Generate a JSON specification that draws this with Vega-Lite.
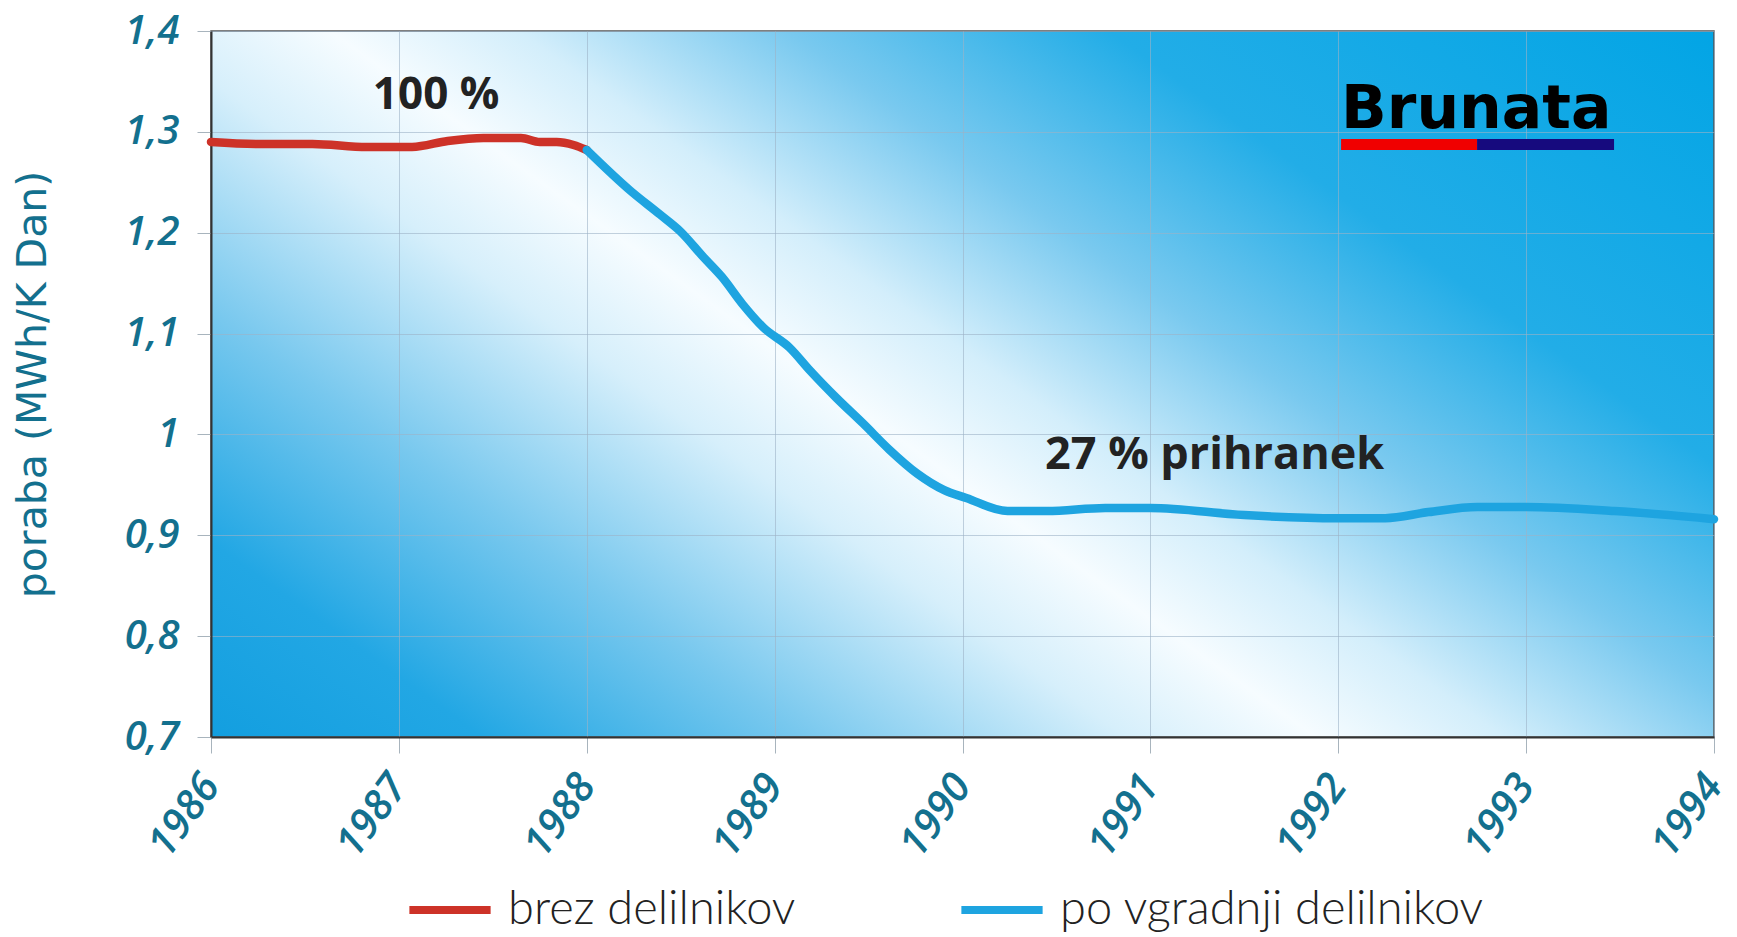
{
  "$schema": "https://vega.github.io/schema/vega-lite/v6.json",
  "width": 1503,
  "height": 706,
  "autosize": {"type": "none"},
  "padding": {"left": 211, "top": 31, "right": 23, "bottom": 200},
  "background": "white",
  "view": {
    "fill": {
      "gradient": "linear",
      "x1": -0.2, "y1": 0.91, "x2": 1.05, "y2": 0.09,
      "stops": [
        {"offset": 0, "color": "#0798dc"},
        {"offset": 0.18, "color": "#22a7e4"},
        {"offset": 0.3, "color": "#78c8ee"},
        {"offset": 0.42, "color": "#d6effb"},
        {"offset": 0.49, "color": "#f6fcff"},
        {"offset": 0.56, "color": "#d3eefb"},
        {"offset": 0.66, "color": "#79c9ef"},
        {"offset": 0.78, "color": "#22ade7"},
        {"offset": 1, "color": "#03a5e5"}
      ]
    },
    "stroke": "#555555",
    "strokeWidth": 1.5
  },
  "layer": [
    {
      "data": {
        "values": [
          {"year": 1986.0, "value": 1.290, "series": "brez delilnikov"},
          {"year": 1986.26, "value": 1.288, "series": "brez delilnikov"},
          {"year": 1986.54, "value": 1.288, "series": "brez delilnikov"},
          {"year": 1986.83, "value": 1.285, "series": "brez delilnikov"},
          {"year": 1987.07, "value": 1.285, "series": "brez delilnikov"},
          {"year": 1987.26, "value": 1.291, "series": "brez delilnikov"},
          {"year": 1987.45, "value": 1.294, "series": "brez delilnikov"},
          {"year": 1987.65, "value": 1.294, "series": "brez delilnikov"},
          {"year": 1987.75, "value": 1.290, "series": "brez delilnikov"},
          {"year": 1987.84, "value": 1.290, "series": "brez delilnikov"},
          {"year": 1987.93, "value": 1.287, "series": "brez delilnikov"},
          {"year": 1988.0, "value": 1.282, "series": "brez delilnikov"},
          {"year": 1988.0, "value": 1.282, "series": "po vgradnji delilnikov"},
          {"year": 1988.23, "value": 1.242, "series": "po vgradnji delilnikov"},
          {"year": 1988.39, "value": 1.218, "series": "po vgradnji delilnikov"},
          {"year": 1988.5, "value": 1.201, "series": "po vgradnji delilnikov"},
          {"year": 1988.62, "value": 1.176, "series": "po vgradnji delilnikov"},
          {"year": 1988.72, "value": 1.156, "series": "po vgradnji delilnikov"},
          {"year": 1988.83, "value": 1.129, "series": "po vgradnji delilnikov"},
          {"year": 1988.94, "value": 1.106, "series": "po vgradnji delilnikov"},
          {"year": 1989.08, "value": 1.086, "series": "po vgradnji delilnikov"},
          {"year": 1989.19, "value": 1.063, "series": "po vgradnji delilnikov"},
          {"year": 1989.33, "value": 1.036, "series": "po vgradnji delilnikov"},
          {"year": 1989.47, "value": 1.011, "series": "po vgradnji delilnikov"},
          {"year": 1989.61, "value": 0.985, "series": "po vgradnji delilnikov"},
          {"year": 1989.76, "value": 0.961, "series": "po vgradnji delilnikov"},
          {"year": 1989.9, "value": 0.945, "series": "po vgradnji delilnikov"},
          {"year": 1990.02, "value": 0.937, "series": "po vgradnji delilnikov"},
          {"year": 1990.24, "value": 0.924, "series": "po vgradnji delilnikov"},
          {"year": 1990.45, "value": 0.924, "series": "po vgradnji delilnikov"},
          {"year": 1990.76, "value": 0.927, "series": "po vgradnji delilnikov"},
          {"year": 1991.0, "value": 0.927, "series": "po vgradnji delilnikov"},
          {"year": 1991.5, "value": 0.920, "series": "po vgradnji delilnikov"},
          {"year": 1992.0, "value": 0.917, "series": "po vgradnji delilnikov"},
          {"year": 1992.25, "value": 0.917, "series": "po vgradnji delilnikov"},
          {"year": 1992.48, "value": 0.923, "series": "po vgradnji delilnikov"},
          {"year": 1992.74, "value": 0.928, "series": "po vgradnji delilnikov"},
          {"year": 1993.0, "value": 0.928, "series": "po vgradnji delilnikov"},
          {"year": 1993.47, "value": 0.924, "series": "po vgradnji delilnikov"},
          {"year": 1994.0, "value": 0.916, "series": "po vgradnji delilnikov"}
        ]
      },
      "mark": {"type": "line", "strokeWidth": 8.5, "strokeCap": "round", "strokeJoin": "round", "interpolate": "monotone"},
      "encoding": {
        "x": {
          "field": "year", "type": "quantitative",
          "scale": {"domain": [1986, 1994], "nice": false, "zero": false},
          "axis": {
            "values": [1986, 1987, 1988, 1989, 1990, 1991, 1992, 1993, 1994],
            "format": "d",
            "title": null,
            "labelAngle": -54,
            "labelAlign": "right",
            "labelBaseline": "middle",
            "labelFont": "Open Sans",
            "labelFontStyle": "italic",
            "labelFontWeight": 600,
            "labelFontSize": 41,
            "labelColor": "#13708e",
            "labelPadding": 26,
            "tickSize": 16,
            "tickColor": "#a8b4bd",
            "domainColor": "#333333",
            "domainWidth": 2,
            "grid": true,
            "gridColor": "#9db3c6",
            "gridOpacity": 0.6
          }
        },
        "y": {
          "field": "value", "type": "quantitative",
          "scale": {"domain": [0.7, 1.4], "nice": false, "zero": false},
          "axis": {
            "values": [0.7, 0.8, 0.9, 1.0, 1.1, 1.2, 1.3, 1.4],
            "labelExpr": "replace(format(datum.value, '.1~f'), '.', ',')",
            "title": "poraba (MWh/K Dan)",
            "titleFont": "DejaVu Sans",
            "titleFontSize": 41,
            "titleFontWeight": "normal",
            "titleColor": "#13708e",
            "titlePadding": 70,
            "labelFont": "Open Sans",
            "labelFontStyle": "italic",
            "labelFontWeight": 600,
            "labelFontSize": 40,
            "labelColor": "#13708e",
            "labelPadding": 18,
            "tickSize": 14,
            "tickColor": "#a8b4bd",
            "domainColor": "#333333",
            "domainWidth": 2,
            "grid": true,
            "gridColor": "#9db3c6",
            "gridOpacity": 0.6
          }
        },
        "color": {
          "field": "series", "type": "nominal",
          "scale": {"domain": ["brez delilnikov", "po vgradnji delilnikov"], "range": ["#cd3228", "#1ea4e0"]},
          "legend": {
            "title": null,
            "orient": "none",
            "legendX": 194,
            "legendY": 834,
            "direction": "horizontal",
            "symbolType": "stroke",
            "symbolSize": 6600,
            "symbolStrokeWidth": 8,
            "labelFont": "Lato",
            "labelFontWeight": 300,
            "labelFontSize": 47,
            "labelColor": "#222222",
            "labelOffset": 13,
            "labelLimit": 1000,
            "columnPadding": 149
          }
        }
      }
    },
    {
      "data": {"values": [{"label": "100 %", "year": 1987.198, "value": 1.323}]},
      "mark": {"type": "text", "font": "Open Sans", "fontWeight": "bold", "fontSize": 44, "color": "#222222", "align": "center", "baseline": "alphabetic"},
      "encoding": {
        "x": {"field": "year", "type": "quantitative"},
        "y": {"field": "value", "type": "quantitative"},
        "text": {"field": "label"}
      }
    },
    {
      "data": {"values": [{"label": "27 % prihranek", "year": 1990.439, "value": 0.966}]},
      "mark": {"type": "text", "font": "Open Sans", "fontWeight": "bold", "fontSize": 45, "color": "#222222", "align": "left", "baseline": "alphabetic"},
      "encoding": {
        "x": {"field": "year", "type": "quantitative"},
        "y": {"field": "value", "type": "quantitative"},
        "text": {"field": "label"}
      }
    },
    {
      "data": {"values": [{"label": "Brunata", "year": 1992.015, "value": 1.3038}]},
      "mark": {"type": "text", "font": "DejaVu Sans", "fontWeight": "bold", "fontSize": 60, "color": "#000000", "align": "left", "baseline": "alphabetic"},
      "encoding": {
        "x": {"field": "year", "type": "quantitative"},
        "y": {"field": "value", "type": "quantitative"},
        "text": {"field": "label"}
      }
    },
    {
      "data": {"values": [{"x0": 1992.015, "x1": 1992.739, "y0": 1.282, "y1": 1.2929}]},
      "mark": {"type": "rect", "color": "#f00000"},
      "encoding": {
        "x": {"field": "x0", "type": "quantitative"},
        "x2": {"field": "x1"},
        "y": {"field": "y0", "type": "quantitative"},
        "y2": {"field": "y1"}
      }
    },
    {
      "data": {"values": [{"x0": 1992.739, "x1": 1993.468, "y0": 1.282, "y1": 1.2929}]},
      "mark": {"type": "rect", "color": "#160a7e"},
      "encoding": {
        "x": {"field": "x0", "type": "quantitative"},
        "x2": {"field": "x1"},
        "y": {"field": "y0", "type": "quantitative"},
        "y2": {"field": "y1"}
      }
    }
  ]
}
